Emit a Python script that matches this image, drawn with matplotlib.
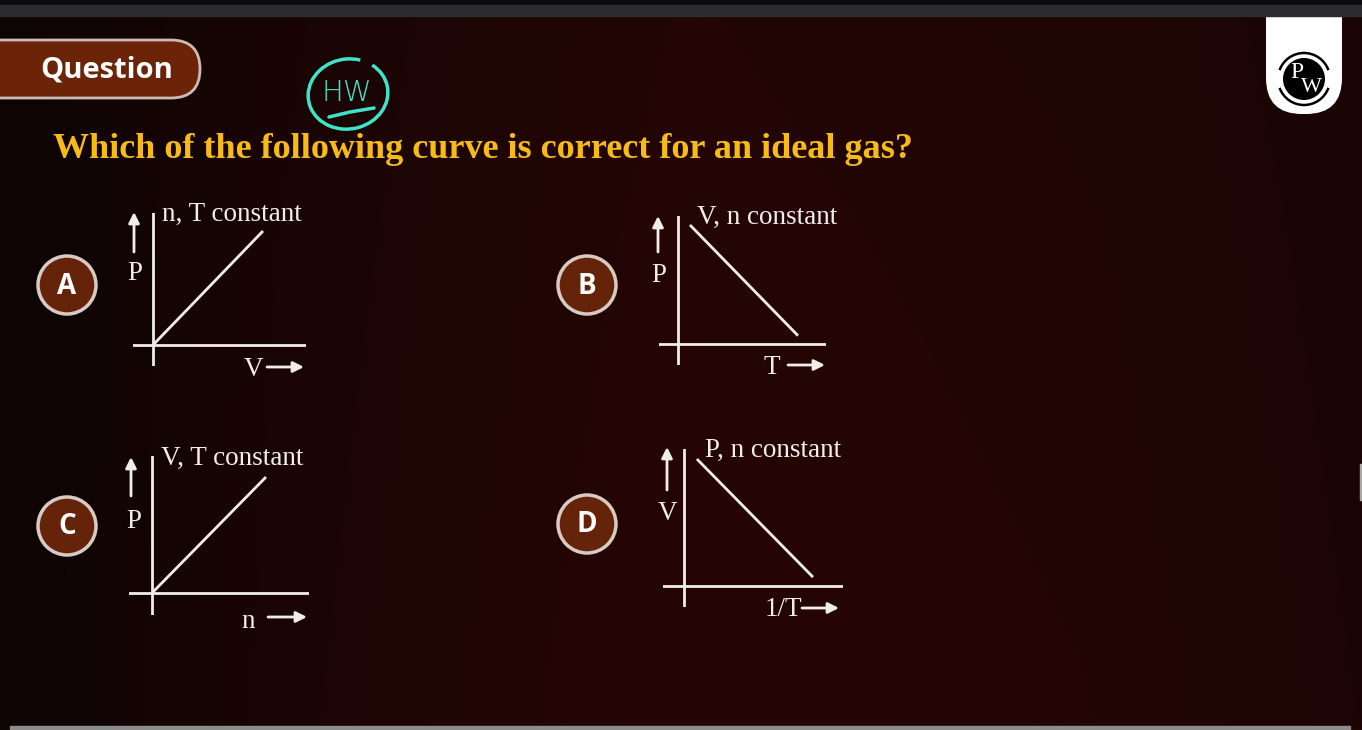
import numpy as np
import matplotlib.pyplot as plt
from matplotlib.patches import Circle, FancyBboxPatch, Arc, Rectangle

W, H = 1362, 730

question = "Which of the following curve is correct for an ideal gas?"
options = ["A", "B", "C", "D"]
titles = ["n, T constant", "V, n constant", "V, T constant", "P, n constant"]
y_labels = ["P", "P", "P", "V"]
x_labels = ["V", "T", "n", "1/T"]
# straight line of each sketch, origin of the sketch = (0, 0)
line_x = [[0, 1], [0.1, 1], [0, 1], [0.1, 1]]
line_y = [[0, 1], [1, 0.07], [0, 1], [1, 0.07]]

# layout of the four sketches in pixels (y downwards)
origin = [(153, 345), (678, 344), (152, 593), (684, 586)]
unit = [(110, 114), (120, 119), (114, 116), (129, 127)]
box = [(133, 213, 306, 366), (659, 216, 826, 365), (129, 456, 309, 615), (663, 449, 843, 607)]
badge = [(67, 285), (587, 285), (67, 526), (587, 524)]
title_xy = [(162, 214), (697, 217), (161, 458), (705, 450)]
ylab_xy = [(135, 274), (659, 275), (134, 521), (667, 513)]
yarrow = [(134, 252, 212), (658, 252, 216), (131, 496, 457), (667, 490, 447)]
xlab_xy = [(253, 369), (772, 367), (248, 621), (783, 609)]
xarrow = [(267, 304, 367), (788, 825, 365), (268, 307, 617), (802, 839, 608)]

fg = "#f1edeb"
serif = "Liberation Serif"

fig = plt.figure(figsize=(W / 100, H / 100), dpi=100)
bg = fig.add_axes([0, 0, 1, 1])
bg.set_xlim(0, W)
bg.set_ylim(H, 0)
bg.axis("off")

# background: dark maroon, darker on the left
xs = np.linspace(0, 1, 140)
ys = np.linspace(0, 1, 75)
gx = np.interp(xs, [0, 0.2, 0.5, 0.8, 1], [0.0, 0.55, 1.0, 0.85, 0.6])
gy = np.interp(ys, [0, 0.3, 1], [0.85, 0.9, 1.0])
g = gy[:, None] * gx[None, :]
dark = np.array([13, 4, 4]) / 255
red = np.array([38, 6, 4]) / 255
img = dark + g[..., None] * (red - dark)
bg.imshow(img, extent=(0, W, H, 0), aspect="auto", interpolation="bilinear", zorder=0)

# top bar and bottom bar
bg.add_patch(Rectangle((0, 0), W, 5, color="#0b0b0d", zorder=5))
bg.add_patch(Rectangle((0, 5), W, 11, color="#2c2b30", zorder=5))
bg.add_patch(Rectangle((10, 726), 1340, 3, color="#8c8c8c", zorder=5))
bg.add_patch(Rectangle((1360, 464), 2, 36, color="#a8a8a8", zorder=5))

# logo
bg.add_patch(FancyBboxPatch((1266, -40), 76, 154, boxstyle="round,pad=0,rounding_size=36",
                            fc="white", ec="none", zorder=2))
bg.add_patch(Circle((1304, 79), 21, fc="black", ec="none", zorder=3))
bg.add_patch(Arc((1304, 79), 52, 52, theta1=200, theta2=340, color="black", lw=1.8, zorder=3))
bg.add_patch(Arc((1304, 79), 52, 52, theta1=20, theta2=160, color="black", lw=1.8, zorder=3))
bg.text(1297, 72, "P", color="white", fontsize=17, family=serif, ha="center", va="center", zorder=4)
bg.text(1311, 88, "W", color="white", fontsize=16, family=serif, ha="center", va="center", zorder=4)

# question tag
bg.add_patch(FancyBboxPatch((-40, 40), 240, 58, boxstyle="round,pad=0,rounding_size=29",
                            fc="#6b2407", ec="#cdbcb5", lw=2, zorder=2))
bg.text(107, 70, "Question", color="white", fontsize=21, fontweight="bold",
        family="Open Sans", ha="center", va="center", zorder=3)

# handwritten HW mark
cyan = "#3fe3c9"
bg.add_patch(Arc((348, 94), 80, 70, angle=-10, theta1=-40, theta2=300, color=cyan, lw=2.5, zorder=3))
bg.text(347, 93, "HW", color=cyan, fontsize=21, family="DejaVu Sans", fontweight="light",
        ha="center", va="center", zorder=3)
bg.plot([329, 350, 374], [117, 112, 108], color=cyan, lw=2.5, solid_capstyle="round", zorder=3)

bg.text(53, 149, question, color="#f7bb16", fontsize=26, fontweight="bold", family=serif,
        ha="left", va="center", zorder=3)

for i in range(4):
    # option badge
    bx, by = badge[i]
    bg.add_patch(Circle((bx, by), 29, fc="#65230a", ec="#d8cac4", lw=2.5, zorder=2))
    bg.text(bx, by + 1, options[i], color="white", fontsize=20, fontweight="bold",
            family="Open Sans", ha="center", va="center", zorder=3)

    # sketch
    l, t, r, b = box[i]
    ox, oy = origin[i]
    ux, uy = unit[i]
    ax = fig.add_axes([l / W, 1 - b / H, (r - l) / W, (b - t) / H])
    ax.set_xlim((l - ox) / ux, (r - ox) / ux)
    ax.set_ylim((oy - b) / uy, (oy - t) / uy)
    ax.axis("off")
    ax.axhline(0, color=fg, lw=2)
    ax.axvline(0, color=fg, lw=2)
    ax.plot(line_x[i], line_y[i], color=fg, lw=2, solid_capstyle="butt")

    bg.text(*title_xy[i], titles[i], color=fg, fontsize=19.5, family=serif, ha="left", va="center")
    bg.text(*ylab_xy[i], y_labels[i], color=fg, fontsize=19.5, family=serif, ha="center", va="center")
    bg.text(*xlab_xy[i], x_labels[i], color=fg, fontsize=19.5, family=serif, ha="center", va="center")
    x0, y0, y1 = yarrow[i]
    bg.annotate("", xy=(x0, y1), xytext=(x0, y0),
                arrowprops=dict(arrowstyle="-|>", color=fg, lw=2, mutation_scale=16, shrinkA=0, shrinkB=0))
    x0, x1, y0 = xarrow[i]
    bg.annotate("", xy=(x1, y0), xytext=(x0, y0),
                arrowprops=dict(arrowstyle="-|>", color=fg, lw=2, mutation_scale=16, shrinkA=0, shrinkB=0))

fig.savefig("out.png", dpi=100)
